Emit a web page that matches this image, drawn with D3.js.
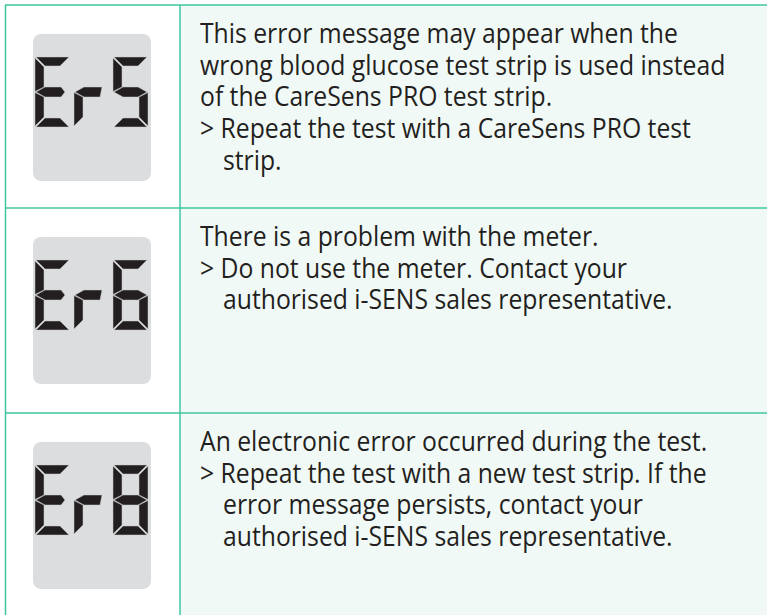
<!DOCTYPE html>
<html><head><meta charset="utf-8">
<script src="https://cdn.jsdelivr.net/npm/d3@7"></script>
<style>html,body{margin:0;padding:0;background:#fff;}svg{display:block;}</style>
</head><body>
<script>
// ---- data ----
const codes = ["Er5", "Er6", "Er8"];
const rowTops = [5, 208, 413];
const descriptions = [
  [["This error message may appear when the", 0],
   ["wrong blood glucose test strip is used instead", 0],
   ["of the CareSens PRO test strip.", 0],
   ["> Repeat the test with a CareSens PRO test", 0],
   ["strip.", 1]],
  [["There is a problem with the meter.", 0],
   ["> Do not use the meter. Contact your", 0],
   ["authorised i-SENS sales representative.", 1]],
  [["An electronic error occurred during the test.", 0],
   ["> Repeat the test with a new test strip. If the", 0],
   ["error message persists, contact your", 1],
   ["authorised i-SENS sales representative.", 1]]
];
// seven segment glyph definitions (segments a..g)
const glyphs = {
  "E": ["a", "d", "e", "f", "gs"],
  "r": ["e", "gr"],
  "5": ["a", "c", "d", "f", "g"],
  "6": ["a", "c", "d", "e", "f", "g"],
  "8": ["a", "b", "c", "d", "e", "f", "g"]
};

const W = 767, H = 615;
const svg = d3.select("body").append("svg").attr("width", W).attr("height", H);
const lineColor = "#3fc6a0";
const colX = 180;

// backgrounds
svg.append("rect").attr("x", 0).attr("y", 0).attr("width", W).attr("height", H).attr("fill", "#fff");
svg.append("rect").attr("x", colX).attr("y", 5).attr("width", W - colX).attr("height", H - 5).attr("fill", "#f1f9f6");

// digit segments
const DW = 35, DH = 70, t = 9, m = DH / 2;
function seg(s) {
  switch (s) {
    case "a": return [[1, 0], [DW - 1, 0], [DW - 1 - t, t], [1 + t, t]];
    case "d": return [[1 + t, DH - t], [DW - 1 - t, DH - t], [DW - 1, DH], [1, DH]];
    case "f": return [[0, 1], [t, 1 + t], [t, m - t / 2 - 0.5], [0, m - 0.5]];
    case "e": return [[0, m + 0.5], [t, m + t / 2 + 0.5], [t, DH - 1 - t], [0, DH - 1]];
    case "b": return [[DW, 1], [DW, m - 0.5], [DW - t, m - t / 2 - 0.5], [DW - t, 1 + t]];
    case "c": return [[DW, m + 0.5], [DW, DH - 1], [DW - t, DH - 1 - t], [DW - t, m + t / 2 + 0.5]];
    case "g": return [[1, m], [1 + t, m - t / 2 - 0.5], [DW - 1 - t, m - t / 2 - 0.5], [DW - 1, m], [DW - 1 - t, m + t / 2 + 0.5], [1 + t, m + t / 2 + 0.5]];
    case "gs": return [[1, m], [1 + t, m - t / 2 - 0.5], [DW - 9, m - t / 2 - 0.5], [DW - 5, m], [DW - 9, m + t / 2 + 0.5], [1 + t, m + t / 2 + 0.5]];
    case "gr": return [[1, m], [1 + t, m - t / 2 - 0.5], [DW - 7, m - t / 2 - 0.5], [DW - 9, m + t / 2 + 0.5], [1 + t, m + t / 2 + 0.5]];
  }
}

const rows = svg.selectAll("g.row").data(codes).join("g")
  .attr("class", "row")
  .attr("transform", (d, i) => `translate(0,${rowTops[i]})`);

rows.append("rect").attr("x", 33).attr("y", 29).attr("width", 118).attr("height", 147)
  .attr("rx", 8).attr("fill", "#dcdddf");

rows.each(function (code) {
  const g = d3.select(this);
  code.split("").forEach((ch, k) => {
    const dg = g.append("g").attr("transform", `translate(${35 + k * 39},52)`);
    dg.selectAll("polygon").data(glyphs[ch]).join("polygon")
      .attr("points", s => seg(s).map(p => p.join(",")).join(" "))
      .attr("fill", "#231f20")
      .attr("stroke", "#c8c9cb").attr("stroke-width", 0.5);
  });
});

// text
const fontFamily = "'Open Sans', 'Noto Sans', sans-serif";
const fs = 26.5;
const probe = svg.append("text").attr("font-family", fontFamily).attr("font-size", fs).text(descriptions[0][0][0]);
const sx = 478 / probe.node().getComputedTextLength();
probe.remove();
const indent = 23;

rows.each(function (code, i) {
  d3.select(this).selectAll("text.desc").data(descriptions[i]).join("text")
    .attr("class", "desc")
    .attr("transform", (d, j) => `translate(${200 + (d[1] ? indent : 0)},${38 + j * 31.7}) scale(${sx},1)`)
    .attr("font-family", fontFamily)
    .attr("font-size", fs)
    .attr("fill", "#231f20")
    .text(d => d[0]);
});

// grid lines
const gl = svg.append("g").attr("stroke", lineColor).attr("stroke-width", 1.5);
gl.append("line").attr("x1", 5).attr("x2", W).attr("y1", 5).attr("y2", 5);
gl.append("line").attr("x1", 5.5).attr("x2", 5.5).attr("y1", 5).attr("y2", H);
gl.append("line").attr("x1", colX).attr("x2", colX).attr("y1", 5).attr("y2", H);
rowTops.slice(1).forEach(r => gl.append("line").attr("x1", 5).attr("x2", W).attr("y1", r).attr("y2", r));
</script>
</body></html>
